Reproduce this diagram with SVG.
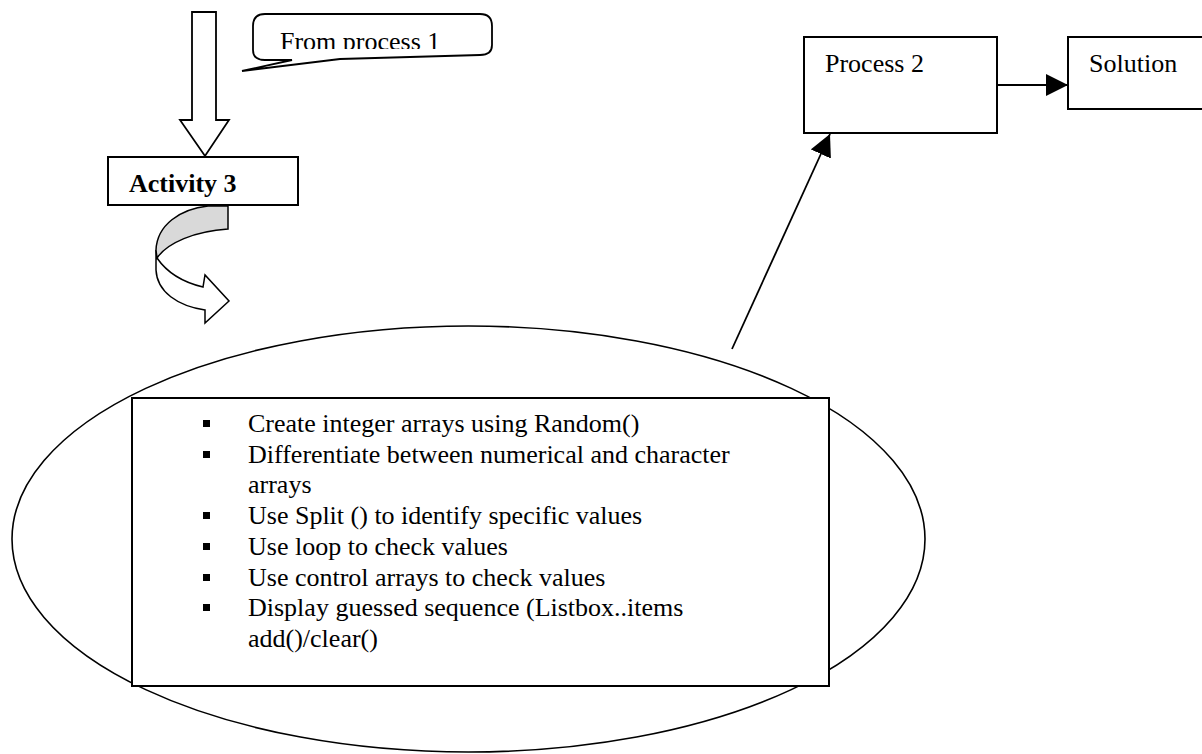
<svg xmlns="http://www.w3.org/2000/svg" width="1202" height="754" viewBox="0 0 1202 754">
<style>
.t{font-family:"Liberation Serif","Times New Roman",serif;font-size:26px;fill:#000}
.b{font-weight:bold}
.box{fill:#fff;stroke:#000;stroke-width:2}
.ln{fill:none;stroke:#000;stroke-width:1.8}
</style>
<defs>
<marker id="ah" markerUnits="userSpaceOnUse" markerWidth="24" markerHeight="22" refX="22" refY="11" orient="auto">
<path d="M0,0 L22,11 L0,22 Z" fill="#000"/>
</marker>
<clipPath id="cclip"><rect x="250" y="10" width="250" height="39"/></clipPath>
</defs>
<rect width="1202" height="754" fill="#fff"/>

<g id="down-arrow">
<path d="M 192 12 H 216 V 120 H 229 L 205 156 L 180 120 H 192 Z" fill="#fff" stroke="#000" stroke-width="1.8"/>
</g>

<g id="callout">
<path d="M 265 14 H 480 Q 492 14 492 26 V 45 Q 492 55 480 55 L 340 59 L 242 71 L 292 60 L 265 60 Q 253 60 253 50 V 26 Q 253 14 265 14 Z" fill="#fff" stroke="#000" stroke-width="1.8"/>
<text class="t" x="280" y="50" clip-path="url(#cclip)">From process 1</text>
</g>

<g id="activity3">
<rect class="box" x="108" y="157" width="190" height="48"/>
<text class="t b" x="129" y="192">Activity 3</text>
</g>

<g id="curved-arrow">
<path d="M 157 258 C 168 274 186 283 203 287 L 205 275 L 229 301 L 205 323 L 205 310 C 178 306 157 292 156 270 L 156 250 Z" fill="#fff" stroke="#000" stroke-width="1.5" stroke-linejoin="miter"/>
<path d="M 208 206 L 228 206 L 228 229 C 195 231 167 243 157 258 L 156 250 C 157 225 180 209 208 206 Z" fill="#d9d9d9" stroke="#000" stroke-width="1.5"/>
</g>

<g id="process2">
<rect class="box" x="804" y="37" width="193" height="96"/>
<text class="t" x="825" y="72">Process 2</text>
</g>

<g id="solution">
<rect class="box" x="1068" y="37" width="150" height="72"/>
<text class="t" x="1089" y="72">Solution</text>
</g>

<g id="ellipse-node">
<ellipse cx="468.5" cy="539" rx="456.5" ry="213" fill="#fff" stroke="#000" stroke-width="1.6"/>
<rect class="box" x="132" y="398" width="697" height="288"/>
<g fill="#000">
<rect x="203" y="420" width="7" height="7"/>
<rect x="203" y="451" width="7" height="7"/>
<rect x="203" y="512" width="7" height="7"/>
<rect x="203" y="543" width="7" height="7"/>
<rect x="203" y="574" width="7" height="7"/>
<rect x="203" y="604" width="7" height="7"/>
</g>
<text class="t" x="248" y="432">Create integer arrays using Random()</text>
<text class="t" x="248" y="463">Differentiate between numerical and character</text>
<text class="t" x="248" y="493">arrays</text>
<text class="t" x="248" y="524">Use Split () to identify specific values</text>
<text class="t" x="248" y="555">Use loop to check values</text>
<text class="t" x="248" y="586">Use control arrays to check values</text>
<text class="t" x="248" y="616">Display guessed sequence (Listbox..items</text>
<text class="t" x="248" y="647">add()/clear()</text>
</g>

<g id="connectors">
<line class="ln" x1="732" y1="349" x2="830" y2="134" marker-end="url(#ah)"/>
<line class="ln" x1="997" y1="85" x2="1068" y2="85" marker-end="url(#ah)"/>
</g>
</svg>
